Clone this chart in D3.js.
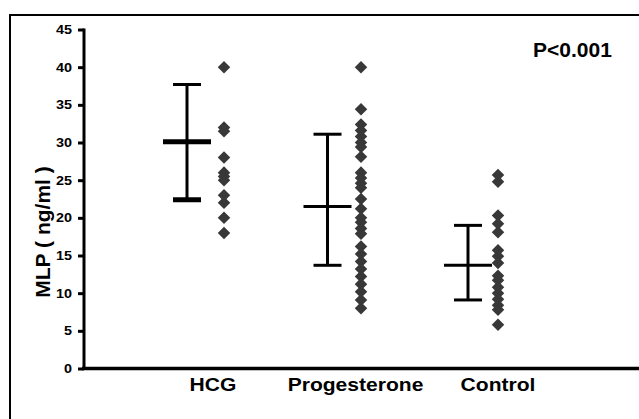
<!DOCTYPE html>
<html>
<head>
<meta charset="utf-8">
<script src="https://cdn.jsdelivr.net/npm/d3@7"></script>
<style>
  html, body { margin: 0; padding: 0; background: #fff; overflow: hidden; }
  svg { display: block; }
  text { font-family: "Liberation Sans", Arial, sans-serif; font-weight: bold; fill: #000; }
</style>
</head>
<body>
<div id="chart"></div>
<script>

// categories and values
var categories = ["HCG", "Progesterone", "Control"];

var hcgValues = [40, 32, 31.5, 28, 26, 25.5, 25, 23, 22, 20, 18];
var progValues = [40, 34.4, 32.4, 31.6, 30.8, 30.0, 29.4, 28.1, 26.0, 25.3, 24.6, 24.0,
	22.5, 21.2, 20.0, 19.4, 18.6, 17.9, 16.2, 15.2, 14.2, 13.2, 12.2, 11.2, 10.2, 9.1, 8.0];
var controlValues = [25.7, 24.8, 20.3, 19.2, 18.1, 15.7, 14.9, 14.0, 12.3, 11.7, 10.8,
	10.0, 9.2, 8.4, 7.8, 5.8];

// mean and range bars
var means = [30.1, 21.5, 13.7];
var upper = [37.7, 31.1, 19.0];
var lower = [22.4, 13.7, 9.1];

var yTicks = [0, 5, 10, 15, 20, 25, 30, 35, 40, 45];

var width = 639, height = 419;

var svg = d3.select("#chart").append("svg")
	.attr("width", width)
	.attr("height", height);

// outer frame: only the left and top edges fall inside the picture
svg.append("path")
	.attr("d", "M10," + height + "V15H" + (width + 5))
	.attr("fill", "none")
	.attr("stroke", "#000")
	.attr("stroke-width", 2);

var y = d3.scaleLinear().domain([0, 45]).range([368.5, 29.5]);

// three position scales: bars, diamonds and labels are not on the same grid
var xBar = d3.scalePoint().domain(categories).range([187, 468]);
var xDot = d3.scalePoint().domain(categories).range([224, 498]);
var xLab = d3.scalePoint().domain(categories).range([213, 498]);

// y axis
var yAxis = d3.axisLeft(y)
	.tickValues(yTicks)
	.tickSize(6);

var gy = svg.append("g")
	.attr("transform", "translate(84,0)")
	.call(yAxis);

gy.select(".domain").remove();
gy.selectAll(".tick line").attr("stroke", "#000").attr("stroke-width", 3);
// the original text is a bit wider than it is tall
gy.selectAll(".tick text")
	.attr("x", 0)
	.attr("transform", "translate(-12,0) scale(1.2,1)")
	.style("font-size", "12px")
	.style("font-family", "Liberation Sans, Arial, sans-serif")
	.style("font-weight", "bold");

// axis lines
svg.append("rect")
	.attr("x", 82.5).attr("y", y(45) - 1)
	.attr("width", 3).attr("height", y(0) - y(45) + 2.5)
	.attr("fill", "#000");

// x axis runs to the right edge of the picture
svg.append("rect")
	.attr("x", 82).attr("y", y(0) - 1.75)
	.attr("width", width + 10 - 82).attr("height", 3.5)
	.attr("fill", "#000");

// category labels
svg.selectAll("text.cat")
	.data(categories)
	.enter()
	.append("text")
	.attr("class", "cat")
	.attr("text-anchor", "middle")
	.attr("transform", function(d) {
		return "translate(" + xLab(d) + ",391) scale(1.17,1)";
	})
	.style("font-size", "18px")
	.text(function(d) { return d; });

// y title
svg.append("text")
	.attr("text-anchor", "middle")
	.attr("transform", "translate(50,232)rotate(-90)")
	.style("font-size", "21px")
	.text("MLP ( ng/ml )");

svg.append("text")
	.attr("x", 533)
	.attr("y", 57)
	.style("font-size", "21px")
	.text("P<0.001");

// error bars
var bars = categories.map(function(c, i) {
	return { cat: c, mean: means[i], hi: upper[i], lo: lower[i] };
});

var meanHalf = 24, capHalf = 14;
var bar = svg.selectAll("g.ebar")
	.data(bars)
	.enter()
	.append("g")
	.attr("class", "ebar")
	.attr("stroke", "#000");

bar.append("line")
	.attr("x1", function(d) { return xBar(d.cat); })
	.attr("x2", function(d) { return xBar(d.cat); })
	.attr("y1", function(d) { return y(d.hi); })
	.attr("y2", function(d) { return y(d.lo); })
	.attr("stroke-width", 3);

bar.append("line")
	.attr("x1", function(d) { return xBar(d.cat) - capHalf; })
	.attr("x2", function(d) { return xBar(d.cat) + capHalf; })
	.attr("y1", function(d) { return y(d.hi); })
	.attr("y2", function(d) { return y(d.hi); })
	.attr("stroke-width", 3);

// HCG bar is drawn heavier at the mean and bottom
bar.append("line")
	.attr("x1", function(d) { return xBar(d.cat) - capHalf; })
	.attr("x2", function(d) { return xBar(d.cat) + capHalf; })
	.attr("y1", function(d) { return y(d.lo); })
	.attr("y2", function(d) { return y(d.lo); })
	.attr("stroke-width", function(d, i) { return i === 0 ? 5 : 3; });

bar.append("line")
	.attr("x1", function(d) { return xBar(d.cat) - meanHalf; })
	.attr("x2", function(d) { return xBar(d.cat) + meanHalf; })
	.attr("y1", function(d) { return y(d.mean); })
	.attr("y2", function(d) { return y(d.mean); })
	.attr("stroke-width", function(d, i) { return i === 0 ? 5 : 3; });

// diamonds
var points = [];
[hcgValues, progValues, controlValues].forEach(function(vals, i) {
	vals.forEach(function(v) { points.push({ cat: categories[i], value: v }); });
});

var diamond = d3.symbol().type(d3.symbolDiamond2).size(100);

svg.selectAll("path.pt")
	.data(points)
	.enter()
	.append("path")
	.attr("class", "pt")
	.attr("d", diamond)
	.attr("transform", function(d) {
		return "translate(" + xDot(d.cat) + "," + y(d.value) + ")";
	})
	.attr("fill", "#383838");

</script>
</body>
</html>
